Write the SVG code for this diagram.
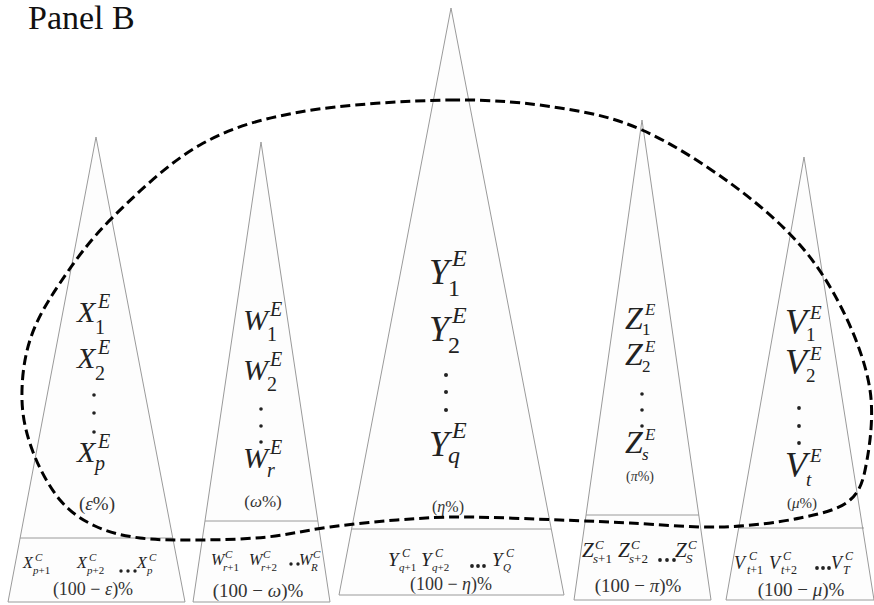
<svg xmlns="http://www.w3.org/2000/svg" width="874" height="605" viewBox="0 0 874 605">
<style>
.tri{fill:#fdfdfd;stroke:#9a9a9a;stroke-width:1}
.dv{stroke:#9a9a9a;stroke-width:1;fill:none}
.m{font-family:"Liberation Serif","Times New Roman",serif;font-style:italic;fill:#222}
.u{font-style:normal}
.pc{font-family:"Liberation Serif","Times New Roman",serif;fill:#333}
.dot{fill:#222}
.curve{fill:none;stroke:#000;stroke-width:3;stroke-dasharray:10 5}
</style>
<rect width="874" height="605" fill="#fff"/>
<text x="28" y="29" font-family="Liberation Serif, Times New Roman, serif" font-size="34" fill="#111">Panel B</text>

<g id="tri-X">
<polygon class="tri" points="96,137 8,602 185,602"/>
<line class="dv" x1="20" y1="538" x2="173" y2="538"/>
<text class="m" font-size="30" x="77" y="322">X</text><text class="m" font-size="20" x="98" y="308">E</text><text class="m u" font-size="20" x="95" y="334">1</text>
<text class="m" font-size="30" x="77" y="368">X</text><text class="m" font-size="20" x="98" y="354">E</text><text class="m u" font-size="20" x="95" y="380">2</text>
<circle class="dot" cx="94" cy="395" r="1.8"/><circle class="dot" cx="94" cy="413" r="1.8"/><circle class="dot" cx="94" cy="432" r="1.8"/>
<text class="m" font-size="30" x="77" y="462">X</text><text class="m" font-size="20" x="98" y="448">E</text><text class="m" font-size="20" x="95" y="470">p</text>
<text class="pc" font-size="19" x="97" y="510" text-anchor="middle">(<tspan font-style="italic">ε</tspan>%)</text>
<text class="m" font-size="16" x="23" y="568">X</text><text class="m" font-size="11" x="35" y="561">C</text><text class="m" font-size="11" x="33" y="574">p<tspan class="u">+1</tspan></text>
<text class="m" font-size="16" x="77" y="568">X</text><text class="m" font-size="11" x="89" y="561">C</text><text class="m" font-size="11" x="87" y="574">p<tspan class="u">+2</tspan></text>
<circle class="dot" cx="121" cy="571" r="1.7"/><circle class="dot" cx="128" cy="571" r="1.7"/><circle class="dot" cx="135" cy="571" r="1.7"/>
<text class="m" font-size="16" x="137" y="568">X</text><text class="m" font-size="11" x="149" y="561">C</text><text class="m" font-size="11" x="147" y="574">p</text>
<text class="pc" font-size="18" x="93" y="595" text-anchor="middle">(100 − <tspan font-style="italic">ε</tspan>)%</text>
</g>

<g id="tri-W">
<polygon class="tri" points="261,142 193,602 330,602"/>
<line class="dv" x1="205" y1="521" x2="318" y2="521"/>
<text class="m" font-size="30" x="243" y="330">W</text><text class="m" font-size="20" x="270" y="316">E</text><text class="m u" font-size="20" x="267" y="341">1</text>
<text class="m" font-size="30" x="243" y="380">W</text><text class="m" font-size="20" x="270" y="366">E</text><text class="m u" font-size="20" x="267" y="391">2</text>
<circle class="dot" cx="261" cy="409" r="1.8"/><circle class="dot" cx="261" cy="426" r="1.8"/><circle class="dot" cx="261" cy="442" r="1.8"/>
<text class="m" font-size="30" x="243" y="468">W</text><text class="m" font-size="20" x="270" y="454">E</text><text class="m" font-size="20" x="267" y="477">r</text>
<text class="pc" font-size="17" x="263" y="507" text-anchor="middle">(<tspan font-style="italic">ω</tspan>%)</text>
<text class="m" font-size="16" x="211" y="565">W</text><text class="m" font-size="11" x="225" y="558">C</text><text class="m" font-size="11" x="223" y="571">r<tspan class="u">+1</tspan></text>
<text class="m" font-size="16" x="249" y="565">W</text><text class="m" font-size="11" x="263" y="558">C</text><text class="m" font-size="11" x="261" y="571">r<tspan class="u">+2</tspan></text>
<circle class="dot" cx="291" cy="564" r="1.7"/><circle class="dot" cx="298" cy="564" r="1.7"/>
<text class="m" font-size="16" x="299" y="565">W</text><text class="m" font-size="11" x="313" y="558">C</text><text class="m" font-size="11" x="311" y="571">R</text>
<text class="pc" font-size="19" x="258" y="597" text-anchor="middle">(100 − <tspan font-style="italic">ω</tspan>)%</text>
</g>

<g id="tri-Y">
<polygon class="tri" points="451,8 339,595 564,595"/>
<line class="dv" x1="352" y1="529" x2="551" y2="529"/>
<text class="m" font-size="36" x="429" y="284">Y</text><text class="m" font-size="24" x="452" y="266">E</text><text class="m u" font-size="24" x="448" y="296">1</text>
<text class="m" font-size="36" x="429" y="341">Y</text><text class="m" font-size="24" x="452" y="323">E</text><text class="m u" font-size="24" x="448" y="353">2</text>
<circle class="dot" cx="446" cy="375" r="2"/><circle class="dot" cx="446" cy="392" r="2"/><circle class="dot" cx="446" cy="410" r="2"/>
<text class="m" font-size="36" x="429" y="456">Y</text><text class="m" font-size="24" x="452" y="438">E</text><text class="m" font-size="24" x="448" y="463">q</text>
<text class="pc" font-size="16" x="448" y="512" text-anchor="middle">(<tspan font-style="italic">η</tspan>%)</text>
<text class="m" font-size="19" x="388" y="566">Y</text><text class="m" font-size="12" x="402" y="557">C</text><text class="m" font-size="11" x="399" y="571">q<tspan class="u">+1</tspan></text>
<text class="m" font-size="19" x="421" y="566">Y</text><text class="m" font-size="12" x="435" y="557">C</text><text class="m" font-size="11" x="432" y="571">q<tspan class="u">+2</tspan></text>
<circle class="dot" cx="472" cy="566" r="1.9"/><circle class="dot" cx="478" cy="566" r="1.9"/><circle class="dot" cx="484" cy="566" r="1.9"/>
<text class="m" font-size="19" x="492" y="566">Y</text><text class="m" font-size="12" x="506" y="557">C</text><text class="m" font-size="11" x="503" y="571">Q</text>
<text class="pc" font-size="18" x="451" y="590" text-anchor="middle">(100 − <tspan font-style="italic">η</tspan>)%</text>
</g>

<g id="tri-Z">
<polygon class="tri" points="642,120 574,600 711,600"/>
<line class="dv" x1="586" y1="515" x2="699" y2="515"/>
<text class="m" font-size="32" x="625" y="329">Z</text><text class="m" font-size="17" x="645" y="315">E</text><text class="m u" font-size="17" x="642" y="335">1</text>
<text class="m" font-size="32" x="625" y="365">Z</text><text class="m" font-size="17" x="645" y="352">E</text><text class="m u" font-size="17" x="642" y="372">2</text>
<circle class="dot" cx="642" cy="394" r="1.8"/><circle class="dot" cx="642" cy="410" r="1.8"/><circle class="dot" cx="642" cy="426" r="1.8"/>
<text class="m" font-size="32" x="625" y="453">Z</text><text class="m" font-size="17" x="645" y="440">E</text><text class="m" font-size="17" x="642" y="460">s</text>
<text class="pc" font-size="14" x="640" y="481" text-anchor="middle">(<tspan font-style="italic">π</tspan>%)</text>
<text class="m" font-size="21" x="582" y="557">Z</text><text class="m" font-size="13" x="595" y="549">C</text><text class="m" font-size="13" x="593" y="563">s<tspan class="u">+1</tspan></text>
<text class="m" font-size="21" x="618" y="557">Z</text><text class="m" font-size="13" x="631" y="549">C</text><text class="m" font-size="13" x="629" y="563">s<tspan class="u">+2</tspan></text>
<circle class="dot" cx="660" cy="560" r="1.9"/><circle class="dot" cx="667" cy="560" r="1.9"/><circle class="dot" cx="674" cy="560" r="1.9"/>
<text class="m" font-size="21" x="675" y="557">Z</text><text class="m" font-size="13" x="688" y="549">C</text><text class="m" font-size="13" x="686" y="563">S</text>
<text class="pc" font-size="19" x="638" y="592" text-anchor="middle">(100 − <tspan font-style="italic">π</tspan>)%</text>
</g>

<g id="tri-V">
<polygon class="tri" points="804,157 726,600 874,600"/>
<line class="dv" x1="739" y1="528" x2="864" y2="528"/>
<text class="m" font-size="36" x="785" y="334">V</text><text class="m" font-size="19" x="810" y="319">E</text><text class="m u" font-size="19" x="806" y="341">1</text>
<text class="m" font-size="36" x="785" y="374">V</text><text class="m" font-size="19" x="810" y="360">E</text><text class="m u" font-size="19" x="806" y="382">2</text>
<circle class="dot" cx="799" cy="408" r="1.9"/><circle class="dot" cx="799" cy="426" r="1.9"/><circle class="dot" cx="799" cy="443" r="1.9"/>
<text class="m" font-size="36" x="785" y="477">V</text><text class="m" font-size="19" x="810" y="462">E</text><text class="m" font-size="19" x="806" y="486">t</text>
<text class="pc" font-size="15" x="802" y="508" text-anchor="middle">(<tspan font-style="italic">μ</tspan>%)</text>
<text class="m" font-size="18" x="734" y="569">V</text><text class="m" font-size="12" x="749" y="560">C</text><text class="m" font-size="12" x="747" y="574">t<tspan class="u">+1</tspan></text>
<text class="m" font-size="18" x="769" y="569">V</text><text class="m" font-size="12" x="783" y="560">C</text><text class="m" font-size="12" x="781" y="574">t<tspan class="u">+2</tspan></text>
<circle class="dot" cx="817" cy="568" r="1.9"/><circle class="dot" cx="823" cy="568" r="1.9"/><circle class="dot" cx="829" cy="568" r="1.9"/>
<text class="m" font-size="18" x="831" y="569">V</text><text class="m" font-size="12" x="845" y="560">C</text><text class="m" font-size="12" x="843" y="574">T</text>
<text class="pc" font-size="19" x="801" y="596" text-anchor="middle">(100 − <tspan font-style="italic">μ</tspan>)%</text>
</g>

<g id="connectors">
<path class="curve" d="M450,100 C493.3,99.3 528,103 560,108 C592,113 613.7,117.5 642,130 C670.3,142.5 703.7,163.8 730,183 C756.3,202.2 780.8,223 800,245 C819.2,267 833.3,290.8 845,315 C856.7,339.2 866.3,365.8 870,390 C873.7,414.2 870.3,441.7 867,460 C863.7,478.3 861.2,490.3 850,500 C838.8,509.7 821.7,513.5 800,518 C778.3,522.5 748.3,526.2 720,527 C691.7,527.8 656.7,524.2 630,523 C603.3,521.8 587.8,521 560,520 C532.2,519 490.2,517 463,517 C435.8,517 419.2,518.3 397,520 C374.8,521.7 351.7,524.2 330,527 C308.3,529.8 288.7,534.8 267,537 C245.3,539.2 221.2,539.8 200,540 C178.8,540.2 157.5,540.3 140,538 C122.5,535.7 108.3,532.3 95,526 C81.7,519.7 70.3,512.3 60,500 C49.7,487.7 39.3,468.7 33,452 C26.7,435.3 22.5,418.7 22,400 C21.5,381.3 23.7,359.5 30,340 C36.3,320.5 46.2,303.5 60,283 C73.8,262.5 89.7,240 113,217 C136.3,194 168.8,162.5 200,145 C231.2,127.5 258.3,119.5 300,112 C341.7,104.5 406.7,100.7 450,100 Z"/>
</g>
</svg>
